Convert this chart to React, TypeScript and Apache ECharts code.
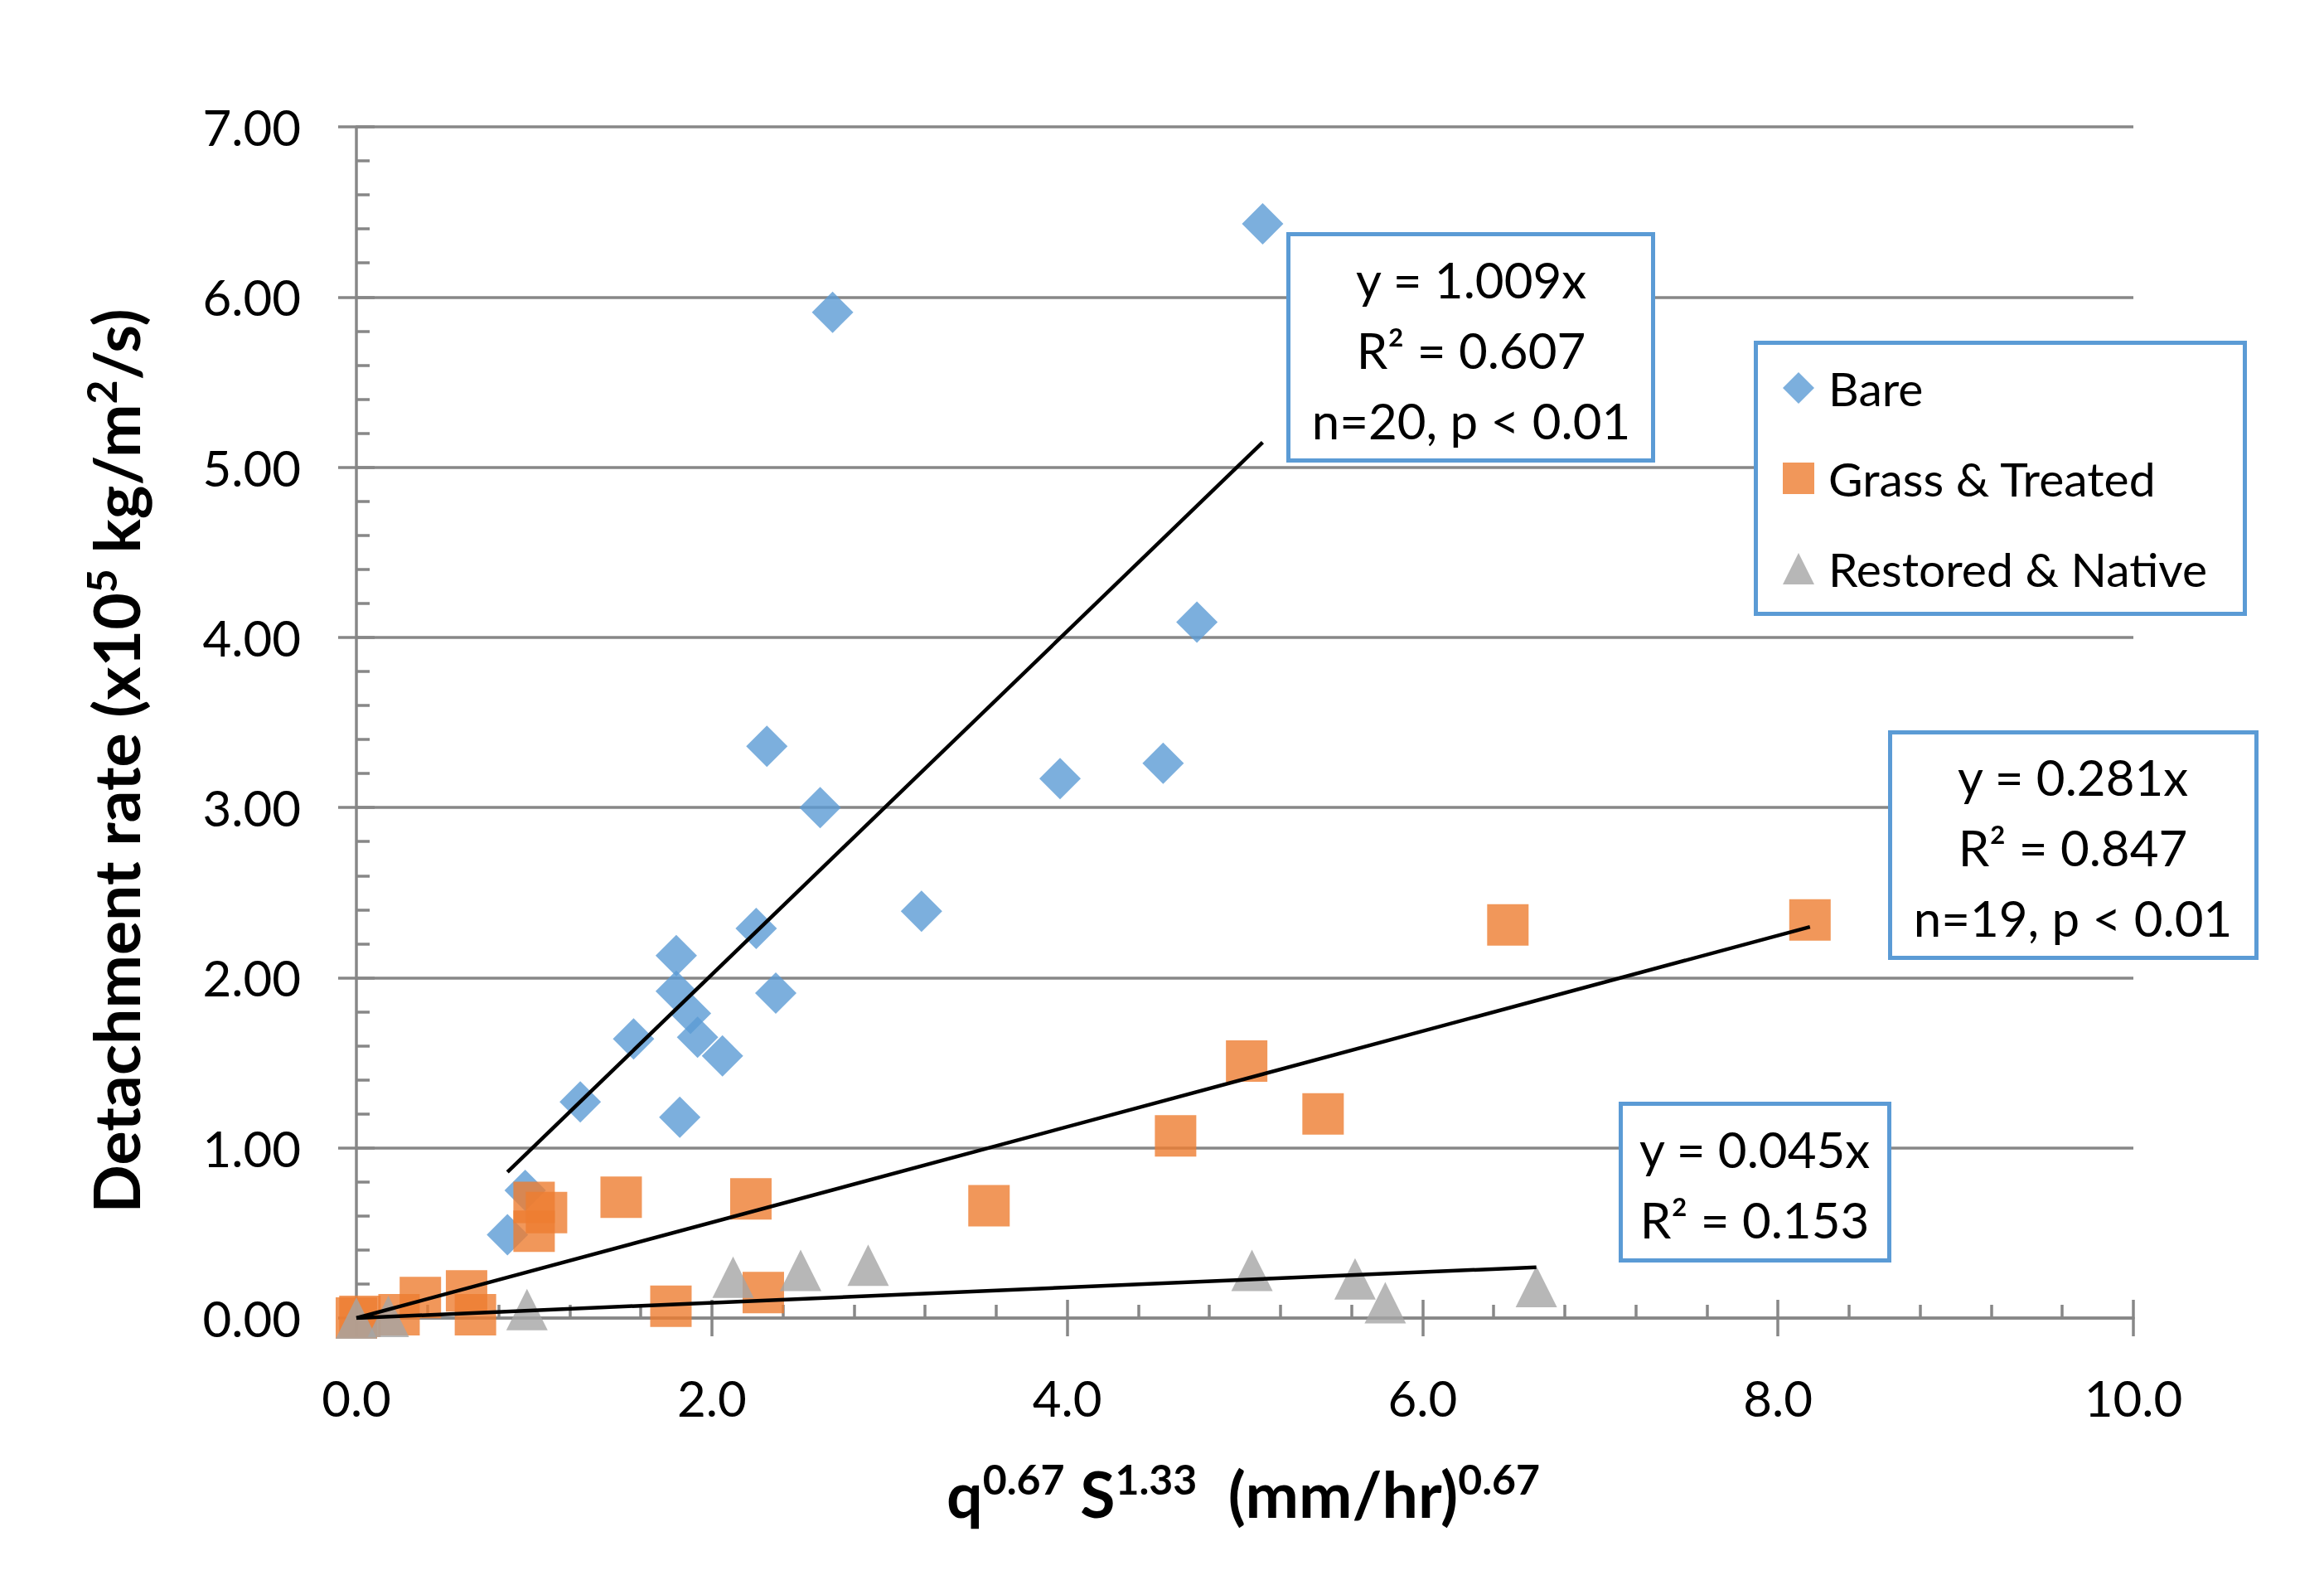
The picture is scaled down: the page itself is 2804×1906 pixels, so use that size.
import React, { useEffect, useRef } from "react";
import * as echarts from "echarts";

// ---- Data ----
const bareX = [5.10, 2.68, 4.73, 2.31, 2.61, 3.96, 4.54, 3.18, 2.25, 1.80, 2.36, 1.80, 1.88, 1.92, 2.06, 1.56, 1.26, 1.82, 0.95, 0.85];
const bareY = [6.43, 5.91, 4.09, 3.36, 3.00, 3.17, 3.26, 2.39, 2.29, 2.13, 1.91, 1.92, 1.79, 1.65, 1.54, 1.64, 1.27, 1.18, 0.75, 0.49];

const grassX = [0.00, 0.02, 0.24, 0.36, 0.62, 0.67, 1.00, 1.00, 1.07, 1.49, 1.77, 2.22, 2.29, 3.56, 4.61, 5.01, 5.44, 6.48, 8.18];
const grassY = [0.00, 0.01, 0.02, 0.12, 0.16, 0.02, 0.51, 0.68, 0.62, 0.71, 0.07, 0.70, 0.15, 0.66, 1.07, 1.51, 1.20, 2.31, 2.34];

const restX = [0.00, 0.18, 0.96, 2.12, 2.50, 2.88, 5.04, 5.62, 5.79, 6.64];
const restY = [0.00, 0.01, 0.05, 0.24, 0.28, 0.31, 0.28, 0.23, 0.09, 0.185];

const seriesNames = ["Bare", "Grass & Treated", "Restored & Native"];
const slopes = [1.009, 0.281, 0.045];
const fitLabels = [
  "y = 1.009x\nR² = 0.607\nn=20, p < 0.01",
  "y = 0.281x\nR² = 0.847\nn=19, p < 0.01",
  "y = 0.045x\nR² = 0.153",
];

const xMin = 0, xMax = 10, xStep = 2;
const yMin = 0, yMax = 7, yStep = 1;

const FONT = "Lato";
const BLUE = "#5b9bd5";
const ORANGE = "#ed7d31";
const GRAY = "#a5a5a5";
const GRID = "#878787";

function zip(xs: number[], ys: number[]) {
  return xs.map((x, i) => [x, ys[i]]);
}
function trend(xs: number[], slope: number) {
  const lo = Math.min(...xs);
  const hi = Math.max(...xs);
  return [[lo, slope * lo], [hi, slope * hi]];
}

export default function App() {
  const ref = useRef<HTMLDivElement>(null);

  useEffect(() => {
    if (!ref.current) return;
    const chart = echarts.init(ref.current, null, { renderer: "svg" });

    const axisLineStyle = { color: GRID, width: 3.5 };

    const boxRect = (x0: number, y0: number, x1: number, y1: number, z: number) => ({
      type: "rect",
      z,
      shape: { x: x0 + 2.5, y: y0 + 2.5, width: x1 - x0 - 5, height: y1 - y0 - 5 },
      style: { fill: "#fff", stroke: BLUE, lineWidth: 5 },
    });
    const boxText = (cx: number, cy: number, text: string, z: number) => ({
      type: "text",
      z,
      x: cx,
      y: cy,
      style: {
        text,
        fill: "#000",
        fontFamily: FONT,
        fontSize: 60,
        lineHeight: 85,
        align: "center",
        verticalAlign: "middle",
        textAlign: "center",
        textVerticalAlign: "middle",
      },
    });

    const titleRich = {
      a: { fontFamily: FONT, fontSize: 77, fontWeight: "bold", fill: "#000", lineHeight: 84, verticalAlign: "middle" },
      s: { fontFamily: FONT, fontSize: 50, fontWeight: "bold", fill: "#000", verticalAlign: "top" },
    };

    const option: any = {
      animation: false,
      backgroundColor: "#fff",
      grid: { left: 430, top: 153, width: 2144, height: 1437, containLabel: false, outerBoundsMode: "none" },
      legend: {
        data: [
          { name: seriesNames[0], icon: "diamond" },
          { name: seriesNames[1], icon: "rect" },
          { name: seriesNames[2], icon: "triangle" },
        ],
        orient: "vertical",
        left: 2151,
        top: 439,
        padding: 0,
        itemWidth: 38,
        itemHeight: 38,
        itemGap: 51,
        selectedMode: false,
        z: 60,
        textStyle: { fontFamily: FONT, fontSize: 57, color: "#000", lineHeight: 58, padding: [0, 0, 0, 12] },
      },
      xAxis: [
        {
          type: "value",
          min: xMin,
          max: xMax,
          interval: xStep,
          position: "bottom",
          axisLine: { show: true, lineStyle: axisLineStyle },
          axisTick: { show: true, inside: false, length: 22, lineStyle: axisLineStyle },
          minorTick: { show: false },
          splitLine: { show: false },
          axisLabel: {
            fontFamily: FONT,
            fontSize: 60,
            color: "#000",
            margin: 66,
            formatter: (v: number) => v.toFixed(1),
          },
        },
        {
          type: "value",
          min: xMin,
          max: xMax,
          interval: xStep,
          position: "bottom",
          axisLine: { show: false },
          axisTick: { show: true, inside: true, length: 22, lineStyle: axisLineStyle },
          minorTick: { show: true, splitNumber: 5, length: 16, lineStyle: axisLineStyle },
          splitLine: { show: false },
          axisLabel: { show: false },
        },
      ],
      yAxis: [
        {
          type: "value",
          min: yMin,
          max: yMax,
          interval: yStep,
          position: "left",
          axisLine: { show: true, lineStyle: axisLineStyle },
          axisTick: { show: true, inside: false, length: 22, lineStyle: axisLineStyle },
          minorTick: { show: false },
          splitLine: { show: true, lineStyle: axisLineStyle },
          axisLabel: {
            fontFamily: FONT,
            fontSize: 60,
            color: "#000",
            margin: 67,
            formatter: (v: number) => v.toFixed(2),
          },
        },
        {
          type: "value",
          min: yMin,
          max: yMax,
          interval: yStep,
          position: "left",
          axisLine: { show: false },
          axisTick: { show: true, inside: true, length: 22, lineStyle: axisLineStyle },
          minorTick: { show: true, splitNumber: 5, length: 16, lineStyle: axisLineStyle },
          splitLine: { show: false },
          axisLabel: { show: false },
        },
      ],
      series: [
        {
          name: seriesNames[0],
          type: "scatter",
          symbol: "diamond",
          symbolSize: 50,
          itemStyle: { color: BLUE },
          data: zip(bareX, bareY),
          z: 2,
        },
        {
          name: seriesNames[1],
          type: "scatter",
          symbol: "rect",
          symbolSize: 50,
          itemStyle: { color: ORANGE },
          data: zip(grassX, grassY),
          z: 2,
        },
        {
          name: seriesNames[2],
          type: "scatter",
          symbol: "triangle",
          symbolSize: 50,
          itemStyle: { color: GRAY },
          data: zip(restX, restY),
          z: 2,
        },
        ...[bareX, grassX, restX].map((xs, i) => ({
          name: "trend" + i,
          type: "line",
          data: trend(xs, slopes[i]),
          showSymbol: false,
          symbol: "none",
          silent: true,
          lineStyle: { color: "#000", width: 4.5 },
          z: 4,
        })),
      ],
      graphic: {
        elements: [
          boxRect(1552, 280, 1997, 558, 50),
          boxText(1775, 422, fitLabels[0], 51),
          boxRect(2116, 411, 2711, 743, 50),
          boxRect(2278, 881, 2725, 1158, 50),
          boxText(2501, 1022, fitLabels[1], 51),
          boxRect(1953, 1329, 2282, 1523, 50),
          boxText(2117, 1428, fitLabels[2], 51),
          {
            type: "text",
            z: 51,
            x: 1500,
            y: 1801,
            style: {
              text: "{a|q}{s|0.67}{a| S}{s|1.33}{a|  (mm/hr)}{s|0.67}",
              rich: titleRich,
              fill: "#000",
              align: "center",
              verticalAlign: "middle",
              textAlign: "center",
              textVerticalAlign: "middle",
            },
          },
          {
            type: "text",
            z: 51,
            x: 139,
            y: 918,
            rotation: Math.PI / 2,
            style: {
              text: "{a|Detachment rate (x10}{s|5}{a| kg/m}{s|2}{a|/s)}",
              rich: titleRich,
              fill: "#000",
              align: "center",
              verticalAlign: "middle",
              textAlign: "center",
              textVerticalAlign: "middle",
            },
          },
        ],
      },
    };

    chart.setOption(option);
    return () => chart.dispose();
  }, []);

  return (
    <div
      ref={ref}
      style={{ position: "fixed", left: 0, top: 0, width: 2804, height: 1906, background: "#fff" }}
    />
  );
}
